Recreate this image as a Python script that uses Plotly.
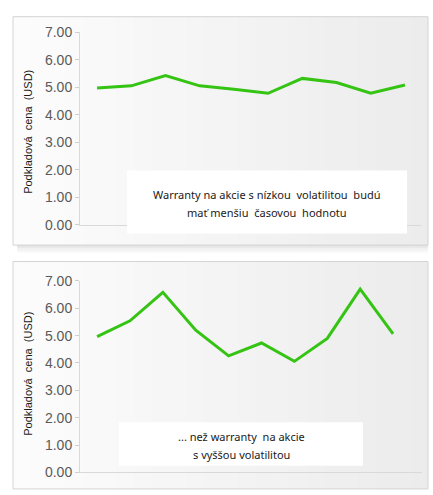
import plotly.graph_objects as go

W, H = 433, 495

# ---- data ----
periods = list(range(10))
low_vol_prices = [4.97, 5.05, 5.42, 5.05, 4.93, 4.78, 5.32, 5.17, 4.78, 5.08]
high_vol_prices = [4.96, 5.54, 6.58, 5.20, 4.26, 4.73, 4.06, 4.90, 6.70, 5.06]
y_ticks = [0, 1, 2, 3, 4, 5, 6, 7]
y_tick_labels = ["0.00", "1.00", "2.00", "3.00", "4.00", "5.00", "6.00", "7.00"]
y_title = "Podkladová  cena  (USD)"
top_note = ["Warranty na akcie s nízkou  volatilitou  budú", "mať menšiu  časovou  hodnotu"]
bottom_note = ["... než warranty  na akcie", "s vyššou volatilitou"]

def px(x):
    return x / W

def py(y):
    return 1 - y / H

LINE = "#35c414"
fig = go.Figure()
fig.add_trace(go.Scatter(x=periods, y=low_vol_prices, mode="lines",
                         line=dict(color=LINE, width=3), xaxis="x", yaxis="y",
                         hoverinfo="skip", showlegend=False))
fig.add_trace(go.Scatter(x=periods, y=high_vol_prices, mode="lines",
                         line=dict(color=LINE, width=3), xaxis="x2", yaxis="y2",
                         hoverinfo="skip", showlegend=False))

shapes = []
annotations = []

# panel backgrounds with horizontal gradient + frame
def panel(x0, y0, x1, y1, shadow=True):
    n = 24
    c0, c1 = 252, 236
    for i in range(n):
        xa = x0 + (x1 - x0) * i / n
        xb = x0 + (x1 - x0) * (i + 1) / n + 0.5
        c = round(c0 + (c1 - c0) * i / (n - 1))
        shapes.append(dict(type="rect", xref="paper", yref="paper", layer="below",
                           x0=px(xa), x1=px(min(xb, x1)), y0=py(y1), y1=py(y0),
                           fillcolor=f"rgb({c},{c},{c})", line=dict(width=0)))
    if shadow:
        for k, c in enumerate([225, 232, 238, 244, 249]):
            shapes.append(dict(type="rect", xref="paper", yref="paper", layer="below",
                               x0=px(x0 + 4), x1=px(x1), y0=py(y1 + 1.6 * (k + 1)), y1=py(y1 + 1.6 * k),
                               fillcolor=f"rgb({c},{c},{c})", line=dict(width=0)))
    shapes.append(dict(type="rect", xref="paper", yref="paper", layer="below",
                       x0=px(x0), x1=px(x1), y0=py(y1), y1=py(y0),
                       fillcolor="rgba(0,0,0,0)", line=dict(color="#d4d4d4", width=1)))

panel(13, 9, 428, 245)
panel(13, 262, 428, 497, shadow=False)

# note boxes
def note(x0, y0, x1, y1, lines, ys):
    shapes.append(dict(type="rect", xref="paper", yref="paper", layer="above",
                       x0=px(x0), x1=px(x1), y0=py(y1), y1=py(y0),
                       fillcolor="white", line=dict(width=0)))
    cx = (x0 + x1) / 2
    for t, yy in zip(lines, ys):
        annotations.append(dict(text=t, x=px(cx), y=py(yy), xref="paper", yref="paper",
                                showarrow=False, xanchor="center", yanchor="middle",
                                font=dict(family="Noto Sans", size=11, color="#1a1a1a")))

note(127, 168, 407, 233, top_note, [193, 211])
note(119, 428, 363, 473, bottom_note, [443, 461])

# y titles
for yc in [128, 378]:
    annotations.append(dict(text=y_title, x=px(28), y=py(yc), xref="paper", yref="paper",
                            showarrow=False, textangle=-90, xanchor="center", yanchor="middle",
                            font=dict(family="Liberation Sans", size=11, color="#1a1a1a")))

yax = dict(range=[0, 7], tickvals=y_ticks, ticktext=y_tick_labels, showgrid=False,
           zeroline=False, showline=True, linecolor="#d9d9d9", linewidth=1,
           ticks="outside", ticklen=4, tickcolor="#cfcfcf",
           tickfont=dict(family="Liberation Sans", size=14, color="#5a5a5a"),
           fixedrange=True)
xax = dict(showgrid=False, zeroline=False, showline=True, linecolor="#d9d9d9",
           linewidth=1, showticklabels=False, ticks="", fixedrange=True)

fig.update_layout(
    width=W, height=H, margin=dict(l=0, r=0, t=0, b=0),
    paper_bgcolor="white", plot_bgcolor="rgba(0,0,0,0)",
    xaxis=dict(xax, domain=[px(80), px(422)], range=[-0.5, 9.5], anchor="y"),
    yaxis=dict(yax, domain=[py(224), py(25)], anchor="x"),
    xaxis2=dict(xax, domain=[px(80), px(422)], range=[-0.52, 9.88], anchor="y2"),
    yaxis2=dict(yax, domain=[py(480), py(282)], anchor="x2"),
    shapes=shapes, annotations=annotations, showlegend=False,
)

fig.write_html("out.html", config={"displayModeBar": False})
